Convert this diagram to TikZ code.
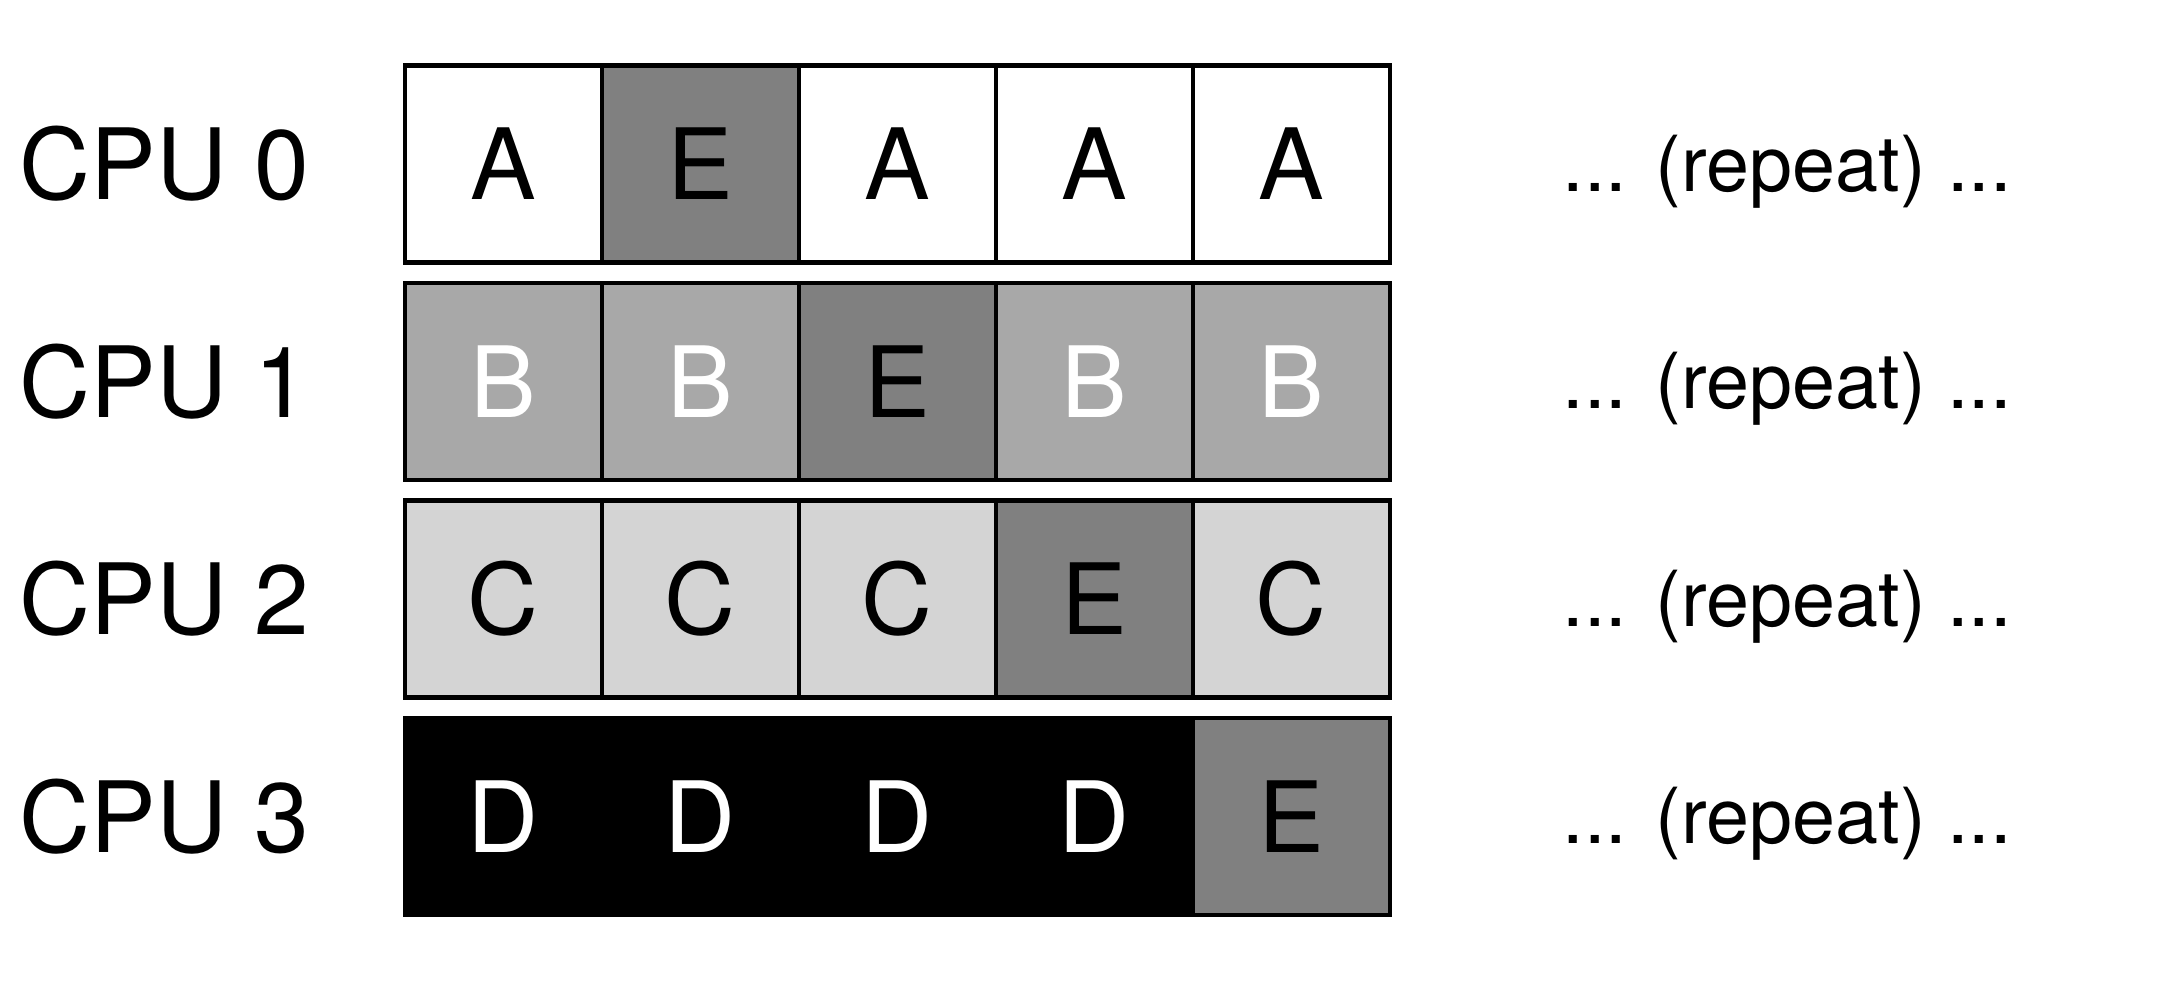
\documentclass[tikz,border=0pt]{standalone}
\usepackage{fontspec}
\setmainfont{TeX Gyre Heros}
\usetikzlibrary{positioning}

\tikzset{
  slot/.style={draw, line width=1.4pt, minimum width=1.97cm, minimum height=1.97cm, inner sep=0pt, font=\fontsize{28}{30}\selectfont},
  slotA/.style={slot, fill=white, text=black},
  slotB/.style={slot, fill=black!34, text=white},
  slotC/.style={slot, fill=black!17, text=black},
  slotD/.style={slot, fill=black, text=white},
  slotE/.style={slot, fill=black!50, text=black},
  cpulabel/.style={anchor=west, inner sep=0pt, font=\fontsize{28}{30}\selectfont},
  repeatlabel/.style={anchor=base west, inner sep=0pt, font=\fontsize{22}{25}\selectfont}
}

\begin{document}
\begin{tikzpicture}
\useasboundingbox (0,0) rectangle (21.63,10);
% CPU 0
\node[cpulabel] (cpu0) at (0.19,8.36) {CPU 0};
\node[slotA] (s00) at (5.035,8.36) {A};
\node[slotE] (s01) at (7.005,8.36) {E};
\node[slotA] (s02) at (8.975,8.36) {A};
\node[slotA] (s03) at (10.945,8.36) {A};
\node[slotA] (s04) at (12.915,8.36) {A};
\node[repeatlabel] (rep0) at (15.62,8.085) {... (repeat) ...};
% CPU 1
\node[cpulabel] (cpu1) at (0.19,6.185) {CPU 1};
\node[slotB] (s10) at (5.035,6.185) {B};
\node[slotB] (s11) at (7.005,6.185) {B};
\node[slotE] (s12) at (8.975,6.185) {E};
\node[slotB] (s13) at (10.945,6.185) {B};
\node[slotB] (s14) at (12.915,6.185) {B};
\node[repeatlabel] (rep1) at (15.62,5.91) {... (repeat) ...};
% CPU 2
\node[cpulabel] (cpu2) at (0.19,4.01) {CPU 2};
\node[slotC] (s20) at (5.035,4.01) {C};
\node[slotC] (s21) at (7.005,4.01) {C};
\node[slotC] (s22) at (8.975,4.01) {C};
\node[slotE] (s23) at (10.945,4.01) {E};
\node[slotC] (s24) at (12.915,4.01) {C};
\node[repeatlabel] (rep2) at (15.62,3.735) {... (repeat) ...};
% CPU 3
\node[cpulabel] (cpu3) at (0.19,1.835) {CPU 3};
\node[slotD] (s30) at (5.035,1.835) {D};
\node[slotD] (s31) at (7.005,1.835) {D};
\node[slotD] (s32) at (8.975,1.835) {D};
\node[slotD] (s33) at (10.945,1.835) {D};
\node[slotE] (s34) at (12.915,1.835) {E};
\node[repeatlabel] (rep3) at (15.62,1.56) {... (repeat) ...};
\end{tikzpicture}
\end{document}
